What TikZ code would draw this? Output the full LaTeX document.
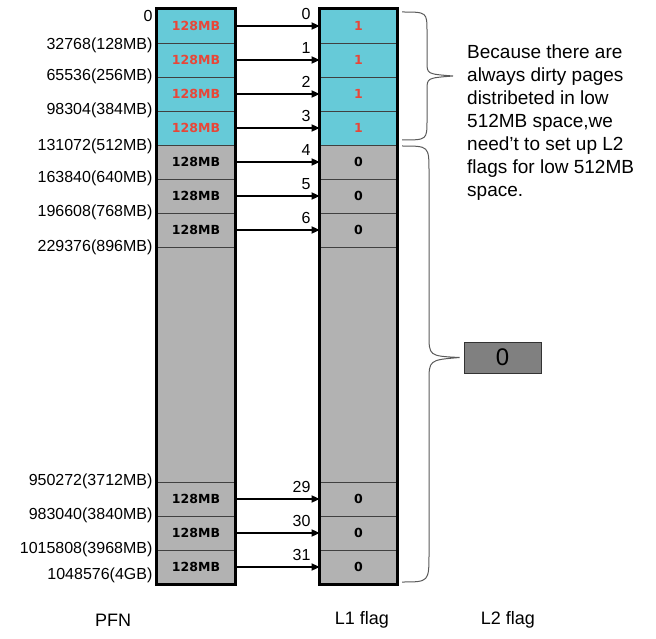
\documentclass[tikz,border=0pt]{standalone}
\usepackage{fontspec}
\setmainfont{Liberation Sans}
\newfontfamily\cellfont{DejaVu Sans}
\usepackage{tikz}
\usetikzlibrary{arrows.meta}

\definecolor{dirtycyan}{RGB}{102,202,216}
\definecolor{cleangray}{RGB}{178,178,178}
\definecolor{ltwogray}{RGB}{128,128,128}
\definecolor{flagred}{RGB}{232,70,56}
\definecolor{bracegray}{RGB}{90,90,90}

\tikzset{
  cell/.style={draw=black!75, line width=0.8pt, minimum height=34pt, inner sep=0pt,
    font=\cellfont\bfseries\fontsize{12.5}{14}\selectfont},
  pfncell/.style={cell, minimum width=78pt},
  lonecell/.style={cell, minimum width=77pt},
  frame/.style={line width=2.4pt, line join=miter},
  flagarrow/.style={line width=1.8pt, -{Triangle[length=8pt,width=7pt]}},
  pfnlabel/.style={anchor=east, inner sep=0pt, font=\fontsize{16}{18}\selectfont},
  idxlabel/.style={anchor=east, inner sep=0pt, font=\fontsize{16}{18}\selectfont},
  bracel/.style={draw=bracegray, line width=1pt},
  caption/.style={inner sep=0pt, font=\fontsize{18}{20}\selectfont}
}

\begin{document}
\begin{tikzpicture}[x=1pt, y=-1pt]
    % Page frame in pixel units of the reference (y grows downwards)
    \useasboundingbox (0,0) rectangle (656,639);
    \def\px{196}    % centre of the PFN column
    \def\lx{358.5}  % centre of the L1 flag column

    % Low 512MB: dirty rows
    \foreach \i in {0,...,3} {
        \node[pfncell, fill=dirtycyan, text=flagred] (p\i) at (\px,{26+34*\i}) {128MB};
        \node[lonecell, fill=dirtycyan, text=flagred] (l\i) at (\lx,{26+34*\i}) {1};
    }
    % Clean rows
    \foreach \i in {4,...,6} {
        \node[pfncell, fill=cleangray] (p\i) at (\px,{26+34*\i}) {128MB};
        \node[lonecell, fill=cleangray] (l\i) at (\lx,{26+34*\i}) {0};
    }
    % Rows 7..28 left out
    \node[pfncell, fill=cleangray, minimum height=235pt] (pm) at (\px,364.5) {};
    \node[lonecell, fill=cleangray, minimum height=235pt] (lm) at (\lx,364.5) {};
    \foreach \i/\y in {29/499,30/533,31/567} {
        \node[pfncell, fill=cleangray] (p\i) at (\px,\y) {128MB};
        \node[lonecell, fill=cleangray] (l\i) at (\lx,\y) {0};
    }

    % Outer frames of both columns
    \draw[frame] (p0.north west) rectangle (p31.south east);
    \draw[frame] (l0.north west) rectangle (l31.south east);

    % PFN -> L1 flag arrows with their indices
    \foreach \i in {0,...,6,29,30,31} {
        \draw[flagarrow] (p\i.east) -- (l\i.west);
        \node[idxlabel, xshift=-9pt, yshift=-5pt] (n\i) at (l\i.north west) {\i};
    }

    % PFN values at the row boundaries
    \node[pfnlabel, xshift=-4pt, yshift=-7pt] (f0) at (p0.north west) {0};
    \node[pfnlabel, xshift=-4pt, yshift=-3pt] (f1) at (p1.north west) {32768(128MB)};
    \node[pfnlabel, xshift=-4pt] (f2) at (p2.north west) {65536(256MB)};
    \node[pfnlabel, xshift=-4pt] (f3) at (p3.north west) {98304(384MB)};
    \node[pfnlabel, xshift=-4pt, yshift=-2pt] (f4) at (p4.north west) {131072(512MB)};
    \node[pfnlabel, xshift=-4pt] (f5) at (p5.north west) {163840(640MB)};
    \node[pfnlabel, xshift=-4pt] (f6) at (p6.north west) {196608(768MB)};
    \node[pfnlabel, xshift=-4pt] (f7) at (p6.south west) {229376(896MB)};
    \node[pfnlabel, xshift=-4pt] (f29) at (p29.north west) {950272(3712MB)};
    \node[pfnlabel, xshift=-4pt] (f30) at (p30.north west) {983040(3840MB)};
    \node[pfnlabel, xshift=-4pt] (f31) at (p31.north west) {1015808(3968MB)};
    \node[pfnlabel, xshift=-4pt, yshift=9pt] (f32) at (p31.south west) {1048576(4GB)};

    % L2 flag for everything above 512MB
    \node[draw=black!80, line width=0.8pt, fill=ltwogray, minimum width=77pt, minimum height=31pt,
          inner sep=0pt, font=\fontsize{24}{26}\selectfont] (l2) at (502.5,357.5) {0};

    % Braces
    \coordinate (utip) at (453,76);
    \coordinate (ltip) at ([xshift=-4pt]l2.west);
    \draw[bracel] (402,12) .. controls (427,12) .. (427,32) -- (427,62)
        .. controls (427,74) .. (utip) .. controls (427,78) .. (427,90) -- (427,120)
        .. controls (427,140) .. (402,140);
    \draw[bracel] (402,146) .. controls (429,146) .. (429,172) -- (429,334)
        .. controls (429,356) .. (ltip) .. controls (429,360) .. (429,382) -- (429,553)
        .. controls (429,582) .. (402,582);

    % Note on the low 512MB
    \node[anchor=north west, inner sep=0pt, align=left,
          font=\fontsize{19}{23}\selectfont] (note) at (467,45)
        {Because there are\\always dirty pages\\distribeted in low\\512MB space,we\\need't to set up L2\\flags for low 512MB\\space.};

    % Column captions
    \node[caption] (cpfn) at (113,620) {PFN};
    \node[caption] (cl1) at (362,620) {L1 flag};
    \node[caption] (cl2) at (508,620) {L2 flag};
\end{tikzpicture}
\end{document}
